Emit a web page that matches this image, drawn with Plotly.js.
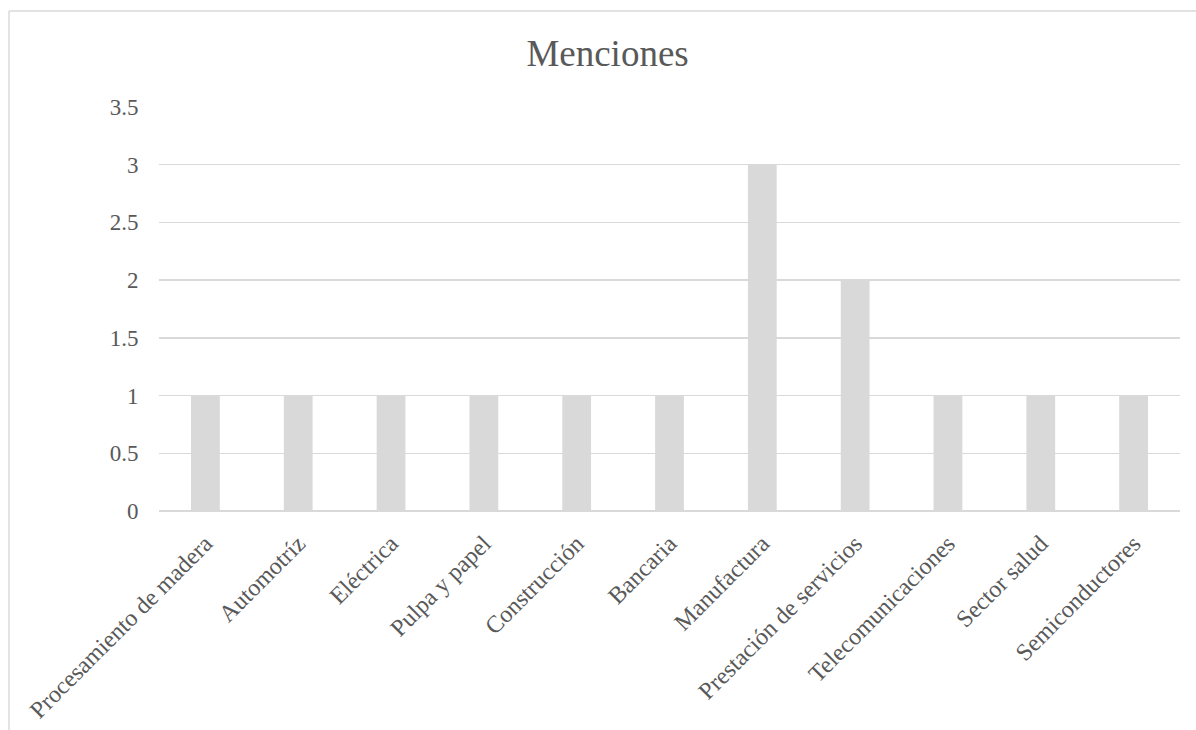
<!DOCTYPE html>
<html>
<head>
<meta charset="utf-8">
<script src="https://cdn.plot.ly/plotly-3.0.1.min.js"></script>
<style>
html,body{margin:0;padding:0;background:#fff;}
#chart{width:1196px;height:730px;}
</style>
</head>
<body>
<div id="chart"></div>
<script>
const categories = [
  "Procesamiento de madera",
  "Automotríz",
  "Eléctrica",
  "Pulpa y papel",
  "Construcción",
  "Bancaria",
  "Manufactura",
  "Prestación de servicios",
  "Telecomunicaciones",
  "Sector salud",
  "Semiconductores"
];
const menciones = [1, 1, 1, 1, 1, 1, 3, 2, 1, 1, 1];
const yTickValues = [0, 0.5, 1, 1.5, 2, 2.5, 3, 3.5];
const yTickLabels = ["0", "0.5", "1", "1.5", "2", "2.5", "3", "3.5"];
const chartTitle = "Menciones";

const fontFamily = 'Liberation Serif';
const textColor = '#595959';
const gridColor = '#d9d9d9';

const trace = {
  type: 'bar',
  x: categories,
  y: menciones,
  marker: {color: '#d9d9d9', line: {width: 0}},
  width: 0.31,
  hoverinfo: 'x+y'
};

const layout = {
  width: 1196,
  height: 730,
  margin: {l: 159, r: 16, t: 107, b: 219, pad: 0},
  paper_bgcolor: '#ffffff',
  plot_bgcolor: '#ffffff',
  showlegend: false,
  font: {family: fontFamily, color: textColor},
  title: {
    text: chartTitle,
    font: {family: fontFamily, size: 37, color: textColor},
    xref: 'container', yref: 'container',
    x: 0.508, xanchor: 'center',
    y: 0.927, yanchor: 'middle'
  },
  xaxis: {
    type: 'category',
    tickangle: -45,
    tickfont: {family: fontFamily, size: 24, color: textColor},
    showgrid: false,
    showline: false,
    ticks: 'outside',
    ticklen: 8,
    tickcolor: 'rgba(0,0,0,0)',
    zeroline: false,
    automargin: false
  },
  yaxis: {
    range: [0, 3.5],
    tickvals: yTickValues,
    ticktext: yTickLabels,
    tickfont: {family: fontFamily, size: 23, color: textColor},
    showgrid: true,
    gridcolor: gridColor,
    gridwidth: 1.5,
    zeroline: true,
    zerolinecolor: gridColor,
    zerolinewidth: 1.5,
    showline: false,
    ticks: 'outside',
    ticklen: 15,
    tickcolor: 'rgba(0,0,0,0)',
    automargin: false
  },
  shapes: [
    {type: 'line', xref: 'paper', yref: 'paper', x0: -0.1469, x1: -0.1469, y0: -0.6, y1: 1.2376,
     line: {color: gridColor, width: 1.5}, layer: 'below'},
    {type: 'line', xref: 'paper', yref: 'paper', x0: -0.1469, x1: 1.1, y0: 1.2376, y1: 1.2376,
     line: {color: gridColor, width: 1.5}, layer: 'below'}
  ]
};

Plotly.newPlot('chart', [trace], layout, {displayModeBar: false, staticPlot: true});
</script>
</body>
</html>
